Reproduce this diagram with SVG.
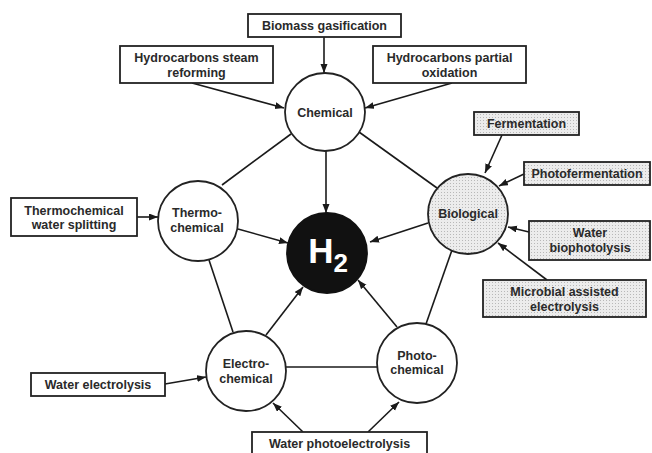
<svg xmlns="http://www.w3.org/2000/svg" width="652" height="453" viewBox="0 0 652 453">
<defs>
<marker id="ah" markerUnits="userSpaceOnUse" markerWidth="10" markerHeight="8" refX="9" refY="3.5" orient="auto">
<path d="M0,0 L9,3.5 L0,7 z" fill="#1a1a1a"/>
</marker>
<pattern id="dots" width="3" height="3" patternUnits="userSpaceOnUse">
<rect width="3" height="3" fill="#ececec"/>
<rect width="1" height="1" fill="#b8b8b8"/>
</pattern>
<style>
.box{fill:#fff;stroke:#222;stroke-width:1.8}
.gbox{fill:url(#dots);stroke:#222;stroke-width:1.8}
.node{fill:#fff;stroke:#222;stroke-width:1.8}
.t{font-family:"Liberation Sans",Arial,sans-serif;font-size:12.5px;font-weight:bold;fill:#2a2a2a;text-anchor:middle}
.c line{stroke:#1a1a1a;stroke-width:1.6}
.c .a{marker-end:url(#ah)}
</style>
</defs>
<rect width="652" height="453" fill="#fff"/>
<g class="c" id="connectors">
<line class="a" x1="324" y1="37" x2="324" y2="73"/>
<line class="a" x1="192" y1="83" x2="284" y2="108"/>
<line class="a" x1="452" y1="83" x2="365" y2="108"/>
<line class="a" x1="326" y1="151" x2="326" y2="213"/>
<line x1="291" y1="134" x2="222" y2="185"/>
<line x1="359" y1="132" x2="437" y2="188"/>
<line class="a" x1="238" y1="229" x2="288" y2="243"/>
<line class="a" x1="428" y1="223" x2="370" y2="242"/>
<line x1="209" y1="260" x2="233" y2="332"/>
<line x1="452" y1="250" x2="426" y2="324"/>
<line class="a" x1="266" y1="335" x2="303" y2="287"/>
<line class="a" x1="397" y1="327" x2="358" y2="280"/>
<line x1="286" y1="367" x2="377" y2="367"/>
<line class="a" x1="165" y1="384" x2="206" y2="377"/>
<line class="a" x1="303" y1="432" x2="273" y2="403"/>
<line class="a" x1="368" y1="432" x2="399" y2="402"/>
<line class="a" x1="502" y1="135" x2="485" y2="173"/>
<line class="a" x1="524" y1="174" x2="499" y2="186"/>
<line class="a" x1="529" y1="232" x2="508" y2="227"/>
<line class="a" x1="547" y1="280" x2="498" y2="243"/>
<line class="a" x1="137" y1="217" x2="158" y2="217"/>
</g>
<g id="biomass"><rect class="box" x="248" y="14" width="153" height="23"/><text class="t" x="324.5" y="30">Biomass gasification</text></g>
<g id="steam"><rect class="box" x="120" y="46" width="153" height="37"/><text class="t" x="196.5" y="61.5">Hydrocarbons steam</text><text class="t" x="196.5" y="76.5">reforming</text></g>
<g id="partial"><rect class="box" x="373" y="46" width="153" height="37"/><text class="t" x="449.5" y="61.5">Hydrocarbons partial</text><text class="t" x="449.5" y="76.5">oxidation</text></g>
<g id="thermosplit"><rect class="box" x="11" y="198" width="126" height="38"/><text class="t" x="74" y="214.5">Thermochemical</text><text class="t" x="74" y="228.5">water splitting</text></g>
<g id="fermentation"><rect class="gbox" x="474" y="112" width="105" height="23"/><text class="t" x="526.5" y="128">Fermentation</text></g>
<g id="photofermentation"><rect class="gbox" x="524" y="162" width="126" height="23"/><text class="t" x="587" y="178">Photofermentation</text></g>
<g id="biophotolysis"><rect class="gbox" x="529" y="221" width="121" height="39"/><text class="t" x="590" y="236.5">Water</text><text class="t" x="590" y="251.5">biophotolysis</text></g>
<g id="microbial"><rect class="gbox" x="483" y="280" width="163" height="37"/><text class="t" x="564.5" y="296">Microbial assisted</text><text class="t" x="564.5" y="310.5">electrolysis</text></g>
<g id="waterelectrolysis"><rect class="box" x="31" y="373" width="134" height="23"/><text class="t" x="98" y="389">Water electrolysis</text></g>
<g id="photoelectrolysis"><rect class="box" x="252" y="432" width="175" height="30"/><text class="t" x="339.5" y="448">Water photoelectrolysis</text></g>
<g id="chemical"><ellipse class="node" cx="325" cy="112" rx="40" ry="39"/><text class="t" x="325" y="116.5">Chemical</text></g>
<g id="thermochemical"><circle class="node" cx="198" cy="221" r="40"/><text class="t" x="197" y="216.5">Thermo-</text><text class="t" x="197" y="232">chemical</text></g>
<g id="biological"><circle cx="468" cy="214" r="40" fill="url(#dots)" stroke="#222" stroke-width="1.8"/><text class="t" x="468" y="218">Biological</text></g>
<g id="h2"><circle cx="327" cy="253" r="40" fill="#111" stroke="#111" stroke-width="1.8"/><text x="328" y="263" font-family="Liberation Sans,Arial,sans-serif" font-weight="bold" font-size="35" fill="#fff" text-anchor="middle">H<tspan font-size="26" dy="9">2</tspan></text></g>
<g id="electrochemical"><circle class="node" cx="246" cy="371" r="40"/><text class="t" x="246" y="367.5">Electro-</text><text class="t" x="246" y="383">chemical</text></g>
<g id="photochemical"><circle class="node" cx="417" cy="363" r="40"/><text class="t" x="417" y="359.5">Photo-</text><text class="t" x="417" y="374">chemical</text></g>
</svg>
